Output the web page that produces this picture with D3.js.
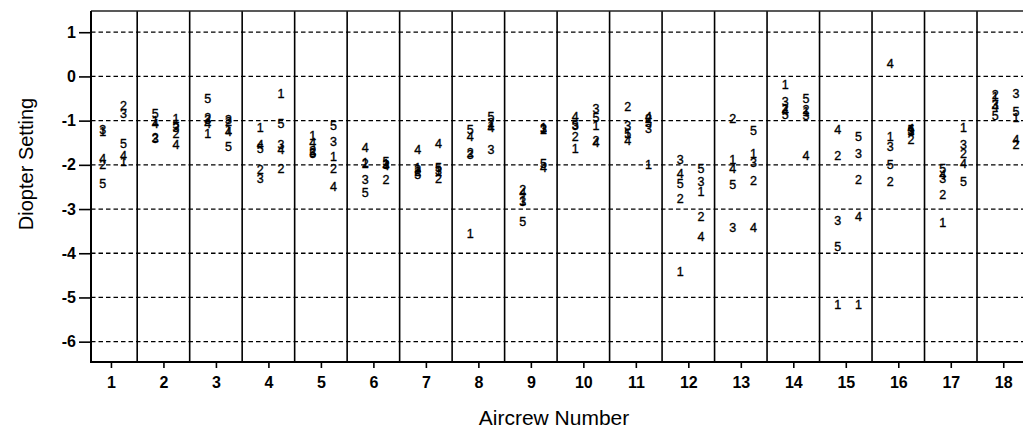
<!DOCTYPE html>
<html>
<head>
<meta charset="utf-8">
<script src="https://cdn.jsdelivr.net/npm/d3@7"></script>
<style>
  html, body { margin: 0; padding: 0; background: #fff; }
  svg { display: block; }
  text { font-family: "Liberation Sans", Arial, sans-serif; fill: #000; }
</style>
</head>
<body>
<svg id="chart" width="1023" height="431"></svg>
<script>
// Aircrew numbers (x categories)
const aircrew = [1,2,3,4,5,6,7,8,9,10,11,12,13,14,15,16,17,18];
// Subject labels plotted as digits
const subjects = ["1","2","3","4","5"];
// Y tick values
const yTicks = [1,0,-1,-2,-3,-4,-5,-6];

// Left column (per subject), one value per aircrew
const left1 = [-1.25,-1.00,-1.30,-1.15,-1.33,-1.94,-2.05,-3.55,-2.80,-1.62,-1.30,-4.42,-1.87,-0.19,-5.17,-1.35,-3.31,-0.45];
const left2 = [-2.00,-1.38,-0.92,-2.10,-1.68,-1.98,-2.15,-1.72,-2.55,-1.36,-0.68,-2.76,-0.95,-0.72,-1.78,-2.38,-2.68,-0.42];
const left3 = [-1.20,-1.40,-0.97,-2.30,-1.72,-2.34,-2.10,-1.76,-2.82,-1.12,-1.12,-1.87,-3.42,-0.57,-3.25,-1.59,-2.32,-0.63];
const left4 = [-1.85,-1.06,-1.06,-1.55,-1.50,-1.61,-1.66,-1.35,-2.62,-0.90,-1.45,-2.19,-2.08,-0.78,-1.21, 0.30,-2.22,-0.68];
const left5 = [-2.42,-0.83,-0.49,-1.62,-1.75,-2.63,-2.22,-1.20,-3.28,-1.08,-1.28,-2.42,-2.45,-0.86,-3.85,-2.00,-2.08,-0.88];

// Right column (per subject), one value per aircrew
const right1 = [-1.93,-0.95,-1.20,-0.38,-1.81,-1.98,-2.15,-1.10,-1.15,-1.10,-2.00,-2.60,-1.74,-0.80,-5.17,-1.22,-1.15,-0.93];
const right2 = [-0.65,-1.30,-1.03,-2.09,-2.08,-2.33,-2.30,-1.05,-1.20,-1.45,-0.95,-3.17,-2.36,-0.74,-2.33,-1.42,-1.74,-1.55];
const right3 = [-0.83,-1.15,-0.98,-1.53,-1.47,-2.00,-2.12,-1.65,-1.18,-0.72,-1.17,-2.38,-1.94,-0.88,-1.74,-1.25,-1.55,-0.38];
const right4 = [-1.80,-1.55,-1.25,-1.66,-2.49,-2.02,-1.51,-1.15,-2.05,-1.50,-0.90,-3.61,-3.42,-1.78,-3.17,-1.17,-1.96,-1.42];
const right5 = [-1.51,-1.08,-1.59,-1.07,-1.12,-1.93,-2.05,-0.90,-1.97,-0.92,-1.05,-2.08,-1.23,-0.49,-1.36,-1.20,-2.38,-0.80];

const leftSeries = [left1, left2, left3, left4, left5];
const rightSeries = [right1, right2, right3, right4, right5];

const svg = d3.select("#chart");

const x = d3.scaleLinear().domain([0.62, 18.5]).range([91, 1029.5]);
const y = d3.scaleLinear().domain([-6.46, 1.48]).range([362, 11]);

const colOffset = [-0.155, 0.24];

const plotL = x(0.62), plotR = 1023, plotT = y(1.48), plotB = y(-6.46);

// Horizontal dotted gridlines
svg.append("g").selectAll("line").data(yTicks).join("line")
  .attr("x1", plotL).attr("x2", plotR)
  .attr("y1", d => y(d)).attr("y2", d => y(d))
  .attr("stroke", "#000").attr("stroke-width", 1.3)
  .attr("stroke-dasharray", "4.5,3");

// Vertical panel separators
const seps = aircrew.slice(0, 17).map(d => d + 0.5);
svg.append("g").selectAll("line").data(seps).join("line")
  .attr("x1", d => x(d)).attr("x2", d => x(d))
  .attr("y1", plotT).attr("y2", plotB)
  .attr("stroke", "#000").attr("stroke-width", 1.6);

// Frame
svg.append("line").attr("x1", plotL).attr("x2", plotR).attr("y1", plotT).attr("y2", plotT)
  .attr("stroke", "#222").attr("stroke-width", 1.6);
svg.append("line").attr("x1", plotL).attr("x2", plotR).attr("y1", plotB).attr("y2", plotB)
  .attr("stroke", "#000").attr("stroke-width", 2);
svg.append("line").attr("x1", plotL).attr("x2", plotL).attr("y1", plotT).attr("y2", plotB + 1)
  .attr("stroke", "#000").attr("stroke-width", 2);

// Axes
const yAxis = d3.axisLeft(y).tickValues(yTicks).tickSize(12).tickPadding(3).tickFormat(d3.format("d"));
const gy = svg.append("g").attr("transform", `translate(${plotL},0)`).call(yAxis);
gy.select(".domain").remove();
gy.selectAll(".tick line").attr("stroke-width", 1.6);
gy.selectAll(".tick text").attr("font-size", 16).attr("font-weight", "bold")
  .attr("font-family", "Liberation Sans, Arial, sans-serif").text(d => d < 0 ? "-" + Math.abs(d) : d);

const xAxis = d3.axisBottom(x).tickValues(aircrew).tickSize(6).tickPadding(8.5);
const gx = svg.append("g").attr("transform", `translate(0,${plotB})`).call(xAxis);
gx.select(".domain").remove();
gx.selectAll(".tick line").attr("stroke-width", 1.6);
gx.selectAll(".tick text").attr("font-size", 16).attr("font-weight", "bold")
  .attr("font-family", "Liberation Sans, Arial, sans-serif");

// Digit marks
const marks = [];
[leftSeries, rightSeries].forEach((series, c) => {
  series.forEach((vals, s) => {
    vals.forEach((v, i) => {
      marks.push({ crew: aircrew[i], col: c, label: subjects[s], value: v });
    });
  });
});

svg.append("g").selectAll("text").data(marks).join("text")
  .attr("x", d => x(d.crew + colOffset[d.col]))
  .attr("y", d => y(d.value))
  .attr("dy", "0.36em")
  .attr("text-anchor", "middle")
  .attr("font-size", 12.5)
  .attr("stroke", "#000").attr("stroke-width", 0.35)
  .text(d => d.label);

// Axis titles
svg.append("text").attr("x", 554).attr("y", 425).attr("text-anchor", "middle")
  .attr("font-size", 21).text("Aircrew Number");
svg.append("text").attr("transform", "translate(33,164) rotate(-90)").attr("text-anchor", "middle")
  .attr("font-size", 20).text("Diopter Setting");
</script>
</body>
</html>
